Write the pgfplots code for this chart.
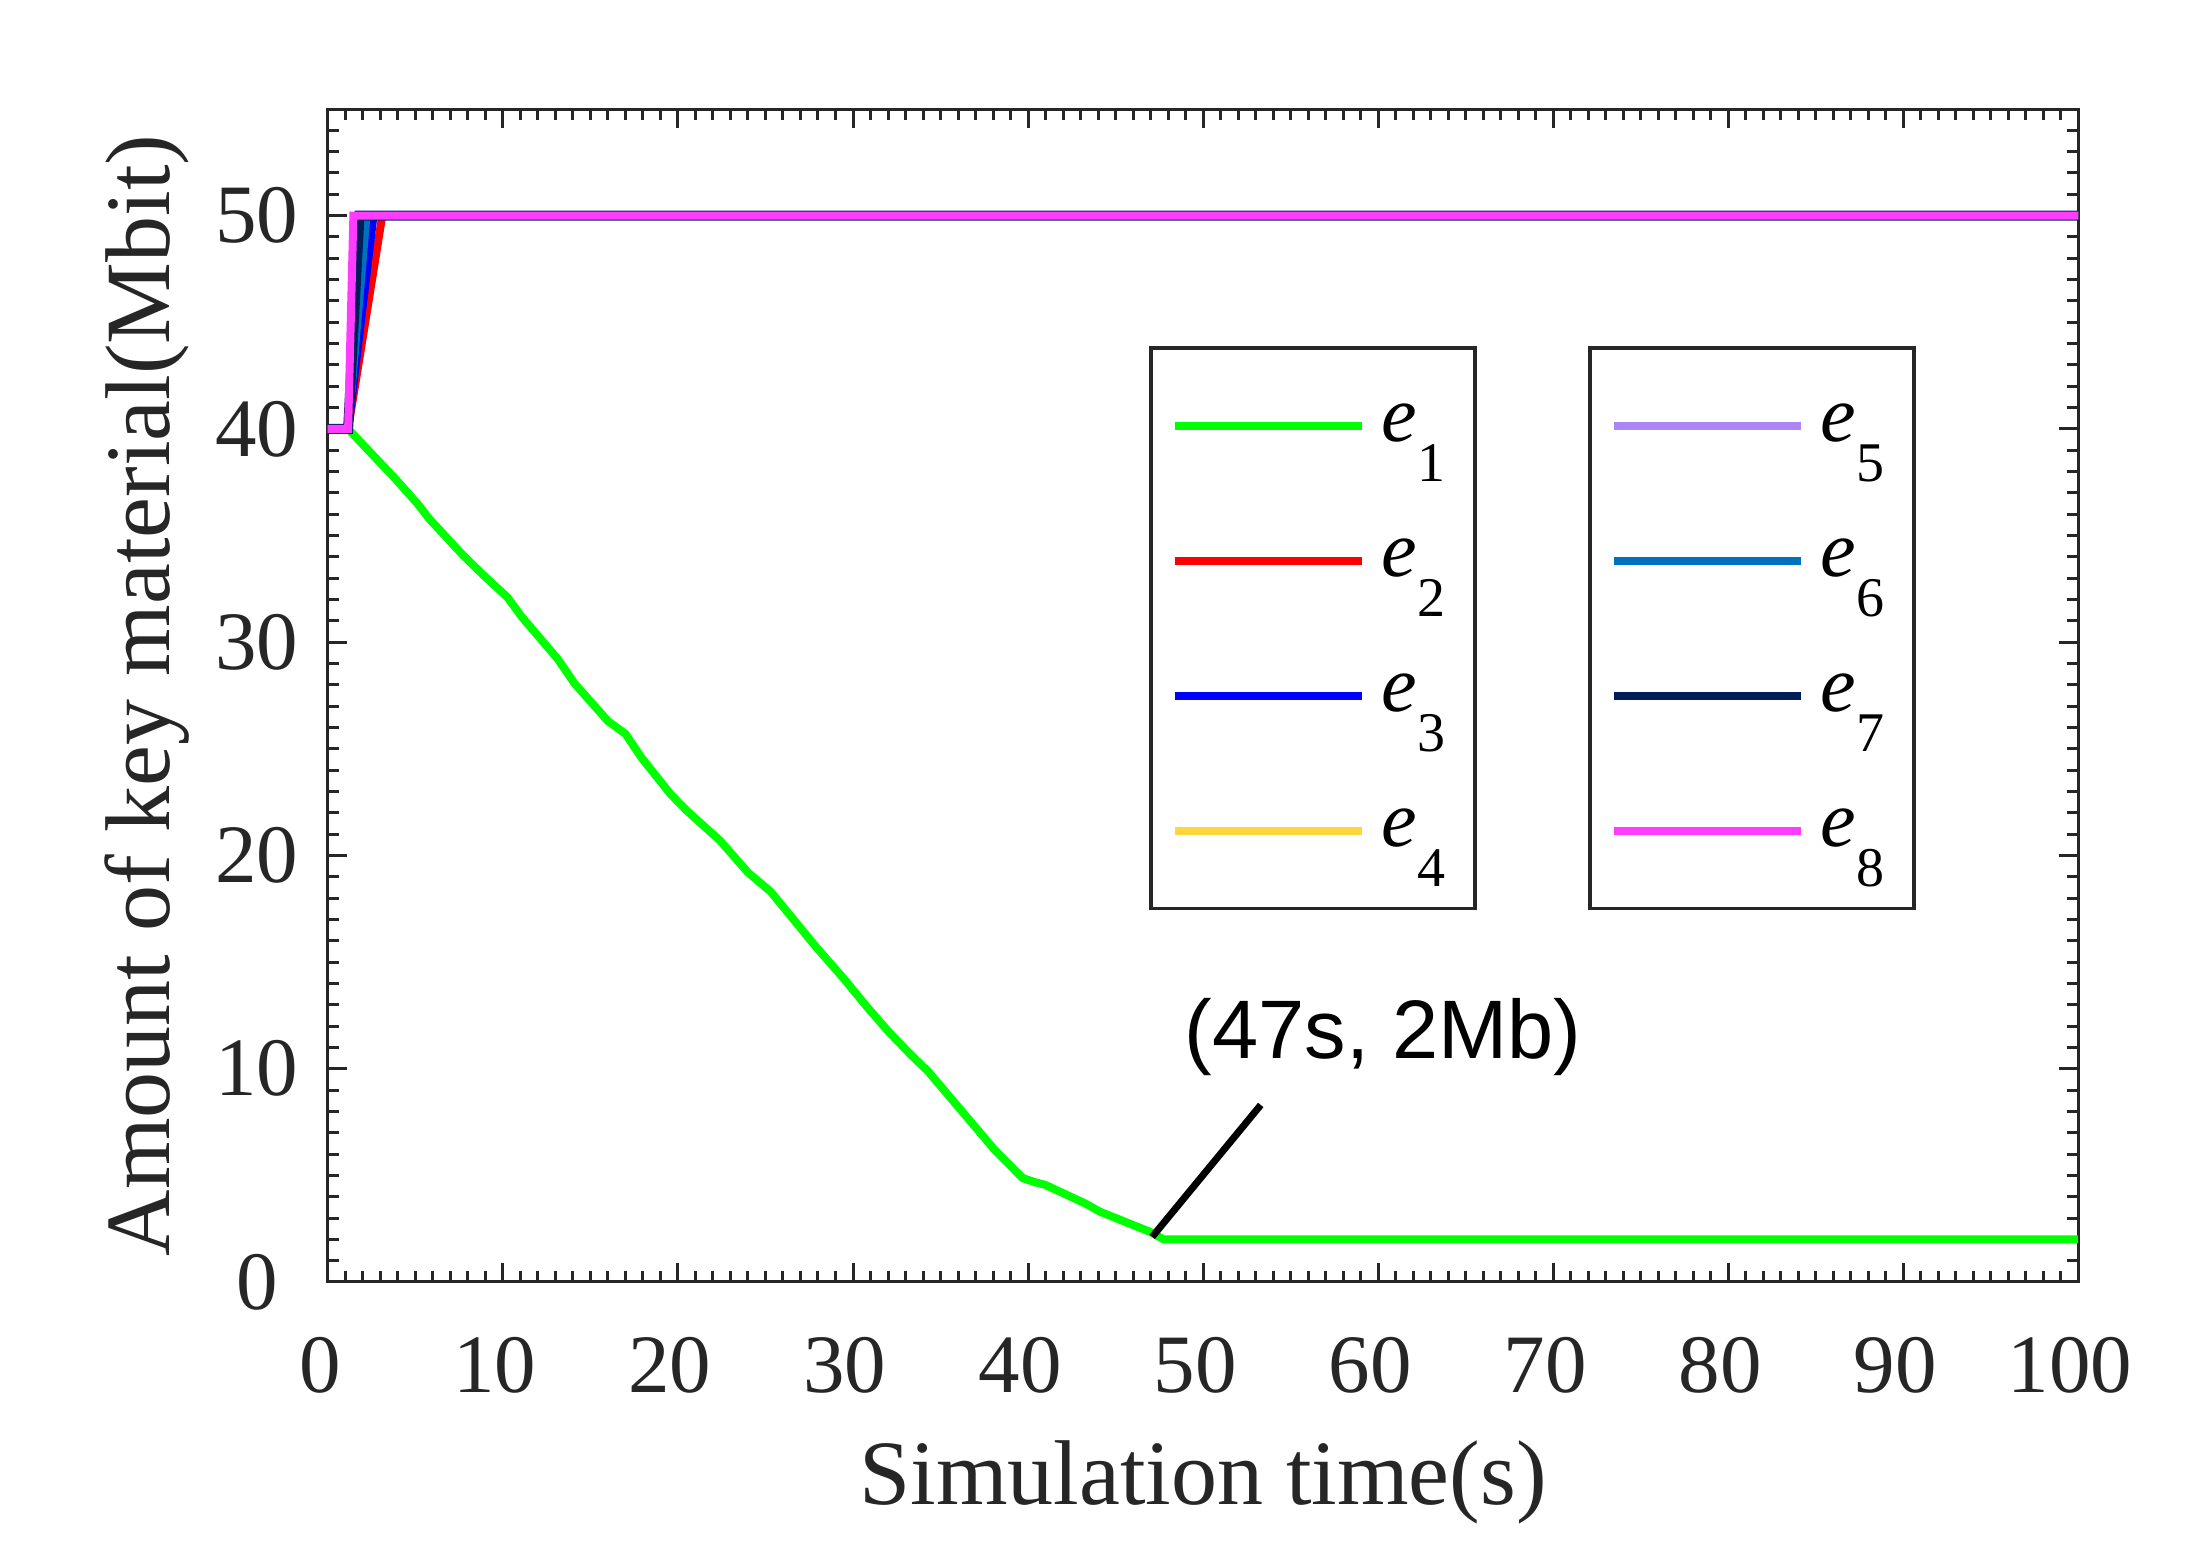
\documentclass[border=0pt]{standalone}
\usepackage{fontspec}
\setmainfont{Liberation Serif}
\newfontfamily\arialfont{Liberation Sans}
\usepackage{pgfplots}
\usepackage{pgfplotstable}
\pgfplotsset{compat=1.18}
\definecolor{axcol}{RGB}{38,38,38}
\definecolor{cEa}{RGB}{0,255,0}
\definecolor{cEb}{RGB}{255,0,0}
\definecolor{cEc}{RGB}{0,0,255}
\definecolor{cEd}{RGB}{255,215,60}
\definecolor{cEe}{RGB}{170,135,245}
\definecolor{cEf}{RGB}{0,114,189}
\definecolor{cEg}{RGB}{0,30,90}
\definecolor{cEh}{RGB}{255,60,255}

\pgfplotstableread{
x y
0 40
1.15 40
3.85 37.66
5.13 36.48
5.77 35.8
7.69 34.1
8.81 33.2
10.26 32.1
11.06 31.2
13.14 29.2
14.1 28.05
16.0 26.3
17.0 25.7
17.9 24.6
19.55 22.9
20.5 22.1
22.4 20.7
24.0 19.2
25.3 18.3
26.6 17.0
27.9 15.7
29.5 14.2
30.8 12.9
32.05 11.72
33.3 10.66
34.3 9.87
36.2 8.03
38.1 6.19
39.7 4.87
40.4 4.68
41.0 4.55
43.3 3.67
44.1 3.3
46.95 2.36
47.75 2.0
100 2.0
}\greendata

\newcommand{\ent}[1]{\makebox[18.25pt][l]{\textit{e}\raisebox{-10pt}{\fontsize{14}{14}\selectfont #1}}}

\pgfplotsset{
  mylegend/.style={
    legend style={at={(#1,0.798)}, anchor=north west, draw=axcol, line width=0.9pt,
      fill=white, inner xsep=5pt, inner ysep=2.6pt,
      font=\fontsize{20}{20}\selectfont, column sep=4pt, row sep=0pt,
      nodes={inner sep=0pt}},
    legend cell align=left,
    legend image code/.code={\draw[##1] (0pt,0pt) -- (46.75pt,0pt);
      \path[draw=none,fill=none] (0pt,-16.875pt) rectangle (46.75pt,16.875pt);}
  },
  base/.style={width=437.5pt, height=293.25pt, scale only axis,
    at={(0pt,0pt)}, anchor=south west,
    xmin=0, xmax=100, ymin=0, ymax=55}
}

\begin{document}
\begin{tikzpicture}
\begin{axis}[base, mylegend=0.4691,
  xtick={0,10,...,100}, ytick={0,10,...,50},
  minor xtick={0,1,...,100}, minor ytick={0,1,...,55},
  tick align=inside, xtick pos=both, ytick pos=both,
  xticklabel pos=lower, yticklabel pos=left,
  major tick length=4.75pt, minor tick length=2.75pt,
  every tick/.style={axcol, line width=0.75pt},
  axis line style={axcol, line width=0.75pt},
  tick label style={font=\fontsize{20.75}{20.75}\selectfont, text=axcol},
  /pgf/number format/assume math mode=true,
  xticklabel style={anchor=base, inner sep=0pt, yshift=-27.5pt, xshift=-2pt},
  yticklabel style={anchor=center, inner sep=0pt, xshift=-17.75pt},
  xlabel={Simulation time(s)},
  ylabel={Amount of key material(Mbit)},
  label style={font=\fontsize{23}{23}\selectfont, text=axcol},
  xlabel style={at={(axis description cs:0.5,0)}, anchor=base, inner sep=0pt, yshift=-55.75pt},
  ylabel style={at={(axis description cs:-0.0903,0.5)}, anchor=base, inner sep=0pt},
]
\addplot[cEa, line width=2pt, line join=round, no marks] table {\greendata};
\addlegendentry{\ent{1}}
\addplot[cEb, line width=2pt, no marks] coordinates {(0,40) (1.15,40) (3.1,50) (100,50)};
\addlegendentry{\ent{2}}
\addplot[cEc, line width=2pt, no marks] coordinates {(0,40) (1.15,40) (2.6,50) (100,50)};
\addlegendentry{\ent{3}}
\addplot[cEd, line width=2pt, no marks] coordinates {(0,40) (1.15,40) (2.1,50) (100,50)};
\addlegendentry{\ent{4}}
\addplot[cEe, line width=2pt, no marks, forget plot] coordinates {(0,40) (1.15,40) (1.85,50) (100,50)};
\addplot[cEf, line width=2pt, no marks, forget plot] coordinates {(0,40) (1.15,40) (2.2,50) (100,50)};
\addplot[cEg, line width=2.5pt, no marks, forget plot] coordinates {(0,40) (1.15,40) (1.8,50) (100,50)};
\addplot[cEh, line width=2pt, no marks, forget plot] coordinates {(0,40) (1.15,40) (1.45,50) (100,50)};
\addplot[black, line width=1.75pt, no marks, forget plot] coordinates {(47.1,2.12) (53.3,8.3)};
\node[font=\arialfont\fontsize{20.75}{20.75}\selectfont, anchor=base, inner sep=0pt] at (axis cs:60.3,10.5) {(47s, 2Mb)};
\end{axis}
\begin{axis}[base, hide axis, mylegend=0.72]
\addlegendimage{cEe, line width=2pt}
\addlegendentry{\ent{5}}
\addlegendimage{cEf, line width=2pt}
\addlegendentry{\ent{6}}
\addlegendimage{cEg, line width=2pt}
\addlegendentry{\ent{7}}
\addlegendimage{cEh, line width=2pt}
\addlegendentry{\ent{8}}
\end{axis}
\path (-82pt,-70.25pt) rectangle (464.75pt,320.5pt);
\end{tikzpicture}
\end{document}
